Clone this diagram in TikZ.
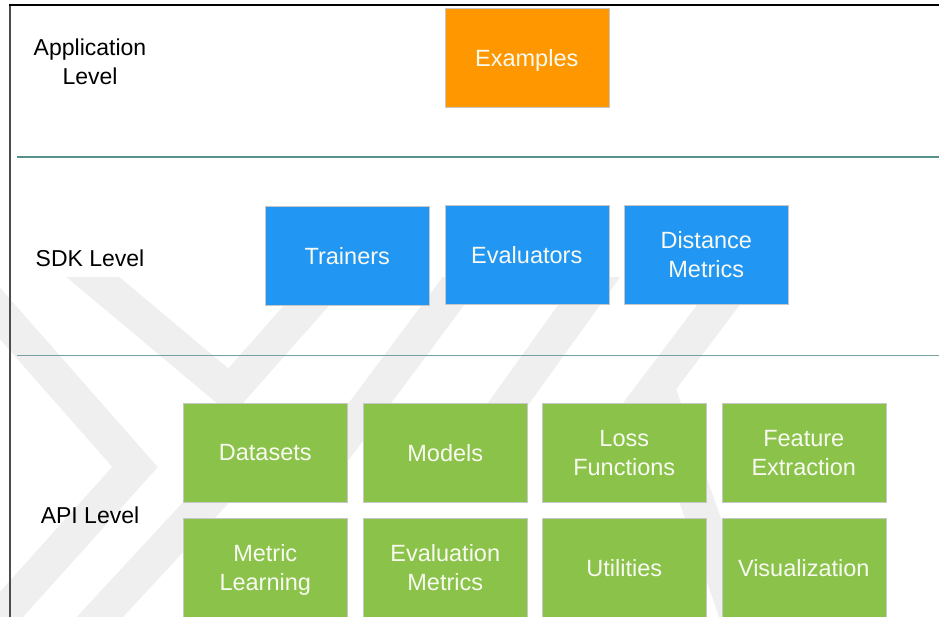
\documentclass[tikz,border=0pt]{standalone}
\usepackage{fontspec}
\setmainfont{Liberation Sans}
\definecolor{orangebox}{RGB}{255,152,0}
\definecolor{bluebox}{RGB}{33,150,243}
\definecolor{greenbox}{RGB}{139,195,74}
\definecolor{sepA}{RGB}{88,145,138}
\definecolor{sepB}{RGB}{120,160,156}
\definecolor{wmark}{RGB}{239,239,239}
\definecolor{boxtext}{RGB}{248,250,242}
\tikzset{
  layerlabel/.style={align=center, text=black, font=\fontsize{23}{29}\selectfont, inner sep=0pt},
  module/.style={rectangle, anchor=north west, minimum width=164pt, minimum height=99pt,
    inner sep=0pt, align=center, text=boxtext, text depth=0pt, draw=black!22, line width=0.5pt,
    font=\fontsize{23.5}{29}\selectfont},
  appbox/.style={module, fill=orangebox},
  sdkbox/.style={module, fill=bluebox},
  apibox/.style={module, fill=greenbox},
  band/.style={wmark, line width=34pt, line cap=butt, line join=miter},
  separator/.style={line width=1.4pt}
}
\begin{document}
\begin{tikzpicture}[x=1pt, y=-1pt]
\useasboundingbox[fill=white] (0,0) rectangle (939,617);

% faint background emblem
\begin{scope}
  \clip (0,278) rectangle (939,617);
  \draw[band] (-25,285) -- (135,467) -- (-25,645);
  \draw[band] (75,262) -- (230,392) -- (345,262);
  \draw[band] (60,660) -- (250,455);
  \draw[band] (335,450) -- (475,262);
  \draw[band] (475,450) -- (610,262);
  \draw[band] (605,455) -- (760,250);
  \draw[band] (655,380) -- (745,640);
\end{scope}

% frame
\draw[black!70, line width=1.2pt] (10,5) -- (10,617);
\draw[black, line width=1.6pt] (9,5) -- (939,5);

% level separators
\draw[separator, sepA] (17,157) -- (939,157);
\draw[separator, sepB, line width=1.8pt] (17,355.5) -- (939,355.5);

% level labels
\node[layerlabel] (lapp) at (90,62) {Application\\Level};
\node[layerlabel] (lsdk) at (90,258) {SDK Level};
\node[layerlabel] (lapi) at (90,515) {API Level};

% application level
\node[appbox] (examples) at (444.5,8) {Examples};

% SDK level
\node[sdkbox] (trainers) at (265,206) {Trainers};
\node[sdkbox] (evaluators) at (444.5,205.5) {Evaluators};
\node[sdkbox] (distance) at (624,205) {Distance\\Metrics};

% API level
\node[apibox] (datasets) at (183,403) {Datasets};
\node[apibox] (models) at (363,403) {Models};
\node[apibox] (loss) at (542,403) {Loss\\Functions};
\node[apibox] (feature) at (721.5,403) {Feature\\Extraction};
\node[apibox] (metriclearn) at (183,518) {Metric\\Learning};
\node[apibox] (evalmetrics) at (363,518) {Evaluation\\Metrics};
\node[apibox] (utilities) at (542,518) {Utilities};
\node[apibox] (visual) at (721.5,518) {Visualization};
\end{tikzpicture}
\end{document}
